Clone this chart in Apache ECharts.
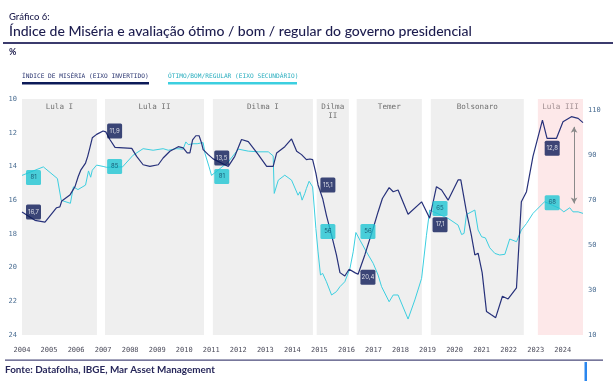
<!DOCTYPE html>
<html><head><meta charset="utf-8">
<script src="https://cdn.jsdelivr.net/npm/echarts@6/dist/echarts.min.js"></script>
<style>html,body{margin:0;padding:0;background:#fff}#c{width:613px;height:389px}</style>
</head><body><div id="c"></div>
<script>
// ---------------- DATA ----------------
const governments = ['Lula I', 'Lula II', 'Dilma I', 'Dilma\nII', 'Temer', 'Bolsonaro', 'Lula III'];
const govStart = [2004.0, 2007.07, 2011.06, 2014.9, 2016.38, 2019.12, 2023.08];
const govEnd   = [2006.77, 2010.73, 2014.76, 2016.09, 2018.79, 2022.56, 2024.75];

const miseryDates = [2004.00,2004.48,2004.85,2005.28,2005.40,2005.47,2005.77,2005.96,2006.08,2006.18,2006.35,2006.43,2006.51,2006.60,2006.76,2007.00,2007.10,2007.25,2007.44,2008.06,2008.24,2008.48,2008.73,2009.04,2009.22,2009.47,2009.78,2009.96,2010.11,2010.21,2010.31,2010.43,2010.55,2010.64,2010.70,2010.89,2011.07,2011.63,2011.87,2012.12,2012.37,2012.74,2013.05,2013.29,2013.42,2013.72,2013.97,2014.16,2014.34,2014.52,2014.65,2014.75,2014.87,2014.95,2015.12,2015.26,2015.45,2015.63,2015.76,2015.94,2016.10,2016.31,2016.43,2016.68,2016.99,2017.17,2017.33,2017.58,2017.73,2017.91,2018.28,2018.78,2019.08,2019.33,2019.52,2019.76,2020.13,2020.23,2020.44,2020.62,2020.75,2020.87,2021.02,2021.18,2021.36,2021.52,2021.77,2021.98,2022.29,2022.47,2022.66,2022.90,2023.25,2023.42,2023.77,2024.01,2024.32,2024.57,2024.75];
const miseryValues = [16.7,17.2,17.3,16.45,16.4,16.05,15.7,15.2,14.6,14.2,13.8,13.4,12.9,12.3,12.1,11.9,11.95,12.4,12.87,12.93,13.4,13.9,14.0,13.9,13.5,13.1,12.83,12.9,13.2,13.2,12.43,12.18,12.18,12.6,13.0,13.3,13.55,14.0,13.4,12.4,12.53,13.3,14.0,14.0,13.2,12.83,12.37,13.1,13.3,13.6,13.56,13.6,14.4,15.1,15.9,16.9,18.07,19.25,20.3,20.5,20.1,20.3,20.4,19.25,17.67,16.7,15.9,15.26,15.5,15.4,16.84,16.1,17.07,15.2,15.4,16.0,14.8,14.8,16.7,18.07,19.25,19.15,20.3,22.6,22.8,22.97,21.7,21.86,21.2,16.1,15.5,13.4,11.25,12.33,12.33,11.35,11.05,11.15,11.4];

const approvalDates = [2004.00,2004.79,2005.31,2005.45,2005.53,2005.79,2005.90,2006.07,2006.14,2006.35,2006.46,2006.54,2006.60,2006.76,2007.00,2007.13,2007.72,2008.11,2008.48,2008.85,2009.22,2009.41,2009.72,2009.96,2010.06,2010.15,2010.33,2010.48,2010.70,2010.77,2010.92,2011.01,2011.63,2012.00,2012.37,2012.74,2013.11,2013.29,2013.33,2013.48,2013.72,2013.97,2014.21,2014.28,2014.36,2014.46,2014.52,2014.62,2014.75,2014.87,2014.95,2015.04,2015.12,2015.26,2015.45,2015.63,2015.76,2015.94,2016.13,2016.25,2016.35,2016.50,2016.74,2016.99,2017.17,2017.30,2017.58,2017.73,2017.91,2018.28,2018.53,2018.78,2018.96,2019.08,2019.76,2020.13,2020.26,2020.35,2020.44,2020.75,2020.87,2021.00,2021.14,2021.30,2021.49,2021.67,2021.86,2022.04,2022.29,2022.47,2022.66,2022.90,2023.33,2023.89,2024.04,2024.26,2024.38,2024.57,2024.75];
const approvalValues = [81,84.8,79.6,70,69.6,68.6,75.9,74.7,74.4,76.7,83.0,80.2,83.3,85.6,85,84.6,84.8,90,92.9,92.2,92.9,92.2,92.9,92.7,95.9,94.7,95.1,95.1,95.6,90.7,84.8,81,87,92.7,91.8,91.5,91.5,89.7,73,78.9,81.1,78.9,72.2,73.7,70,73,75.2,78.4,75.9,57.4,47,36.7,37.4,33.7,27.8,29.3,31.5,33.7,39.6,47,55.6,52.2,47,41.9,36.7,31.5,24.8,27.8,27.8,17.1,25.6,35.2,54.4,65.6,61.9,58.9,54.7,55.2,63.6,65.6,56.7,53.7,53.2,48.8,46.3,45.6,45.9,52.7,51.5,56.7,59.6,64.1,69.3,66.3,64.8,66.6,64.8,64.8,64.1];

const labelDates     = [2004.0, 2007.0, 2011.0, 2015.0, 2016.37, 2019.0, 2023.0];
const miseryLabels   = [16.7, 11.9, 13.5, 15.1, 20.4, 17.1, 12.8];
const approvalLabels = [81, 85, 81, 56, 56, 65, 68];

const arrowDate = 2024.42;
const arrowRange = [68.5, 102.6];

const leftTicks = {min: 10, max: 24, interval: 2};
const rightTicks = {min: 10, max: 115, interval: 20};
const xRange = {min: 2004, max: 2024.75, interval: 1};

// ---------------- STYLE ----------------
const NAVY = '#27317a', NAVY_BOX = '#0c1a58', CYAN = '#3ccfe0', CYAN_BOX = '#1fc5d3';
const MONO = '"DejaVu Sans Mono", "Liberation Mono", monospace';
const SANS = 'Lato, "Noto Sans", sans-serif';
const labelGap = [4, 4, 3, 1, 4, 5, 9];
const miseryDy = [0, 0, 0, 0, 3, 6, 2];
const approvalDy = [2, 0, 1, 0, 0, -3, -2];

function fit(text, family, target, weight) {
  const c = document.createElement('canvas').getContext('2d');
  c.font = (weight ? weight + ' ' : '') + '100px ' + family;
  return 100 * target / c.measureText(text).width;
}
const fmt = v => String(v).replace('.', ',');

const titleTxt = 'Índice de Miséria e avaliação ótimo / bom / regular do governo presidencial';
const leg1 = 'ÍNDICE DE MISÉRIA (EIXO INVERTIDO)';
const leg2 = 'ÓTIMO/BOM/REGULAR (EIXO SECUNDÁRIO)';
const srcTxt = 'Fonte: Datafolha, IBGE, Mar Asset Management';
const titleSize = fit(titleTxt, SANS, 463, '500');
const legSize = fit(leg1, MONO, 127);
const srcSize = fit(srcTxt, SANS, 210, 'bold');

const chart = echarts.init(document.getElementById('c'), null, {renderer: 'canvas'});

const bands = governments.map((g, i) => [
  {xAxis: govStart[i], name: g,
   itemStyle: {color: g === 'Lula III' ? '#fde8e9' : '#efefef'},
   label: {color: g === 'Lula III' ? '#9e8c8f' : '#6e6e6e'}},
  {xAxis: govEnd[i]}
]);

function labelSeries(values, yIdx, bg, fg, dy) {
  return {
    type: 'scatter', yAxisIndex: yIdx, symbolSize: 0, silent: true, z: 10,
    data: labelDates.map((d, i) => ({
      value: [d, values[i]],
      label: {distance: labelGap[i], offset: [0, dy[i]]}
    })),
    label: {
      show: true, position: 'right', backgroundColor: bg, borderRadius: 1.5,
      padding: [4, 2.5],
      formatter: p => '{t|' + fmt(p.value[1]) + '}',
      rich: {t: {width: 10, align: 'center', fontSize: 6, lineHeight: 7, color: fg, fontFamily: 'Inter, sans-serif'}}
    }
  };
}

chart.setOption({
  animation: false,
  grid: {left: 22, right: 30, top: 99, bottom: 54},
  xAxis: {
    type: 'value', min: xRange.min, max: xRange.max, interval: xRange.interval,
    axisLine: {show: false}, axisTick: {show: false}, splitLine: {show: false},
    axisLabel: {showMaxLabel: false, fontFamily: MONO, fontSize: 7, color: '#4d4d5c', margin: 12,
      formatter: v => String(Math.round(v))}
  },
  yAxis: [
    {type: 'value', inverse: true, min: leftTicks.min, max: leftTicks.max, interval: leftTicks.interval,
     axisLine: {show: false}, axisTick: {show: false}, splitLine: {show: false},
     axisLabel: {fontFamily: MONO, fontSize: 7, color: '#4a6d92', margin: 5}},
    {type: 'value', position: 'right', min: rightTicks.min, max: rightTicks.max, interval: rightTicks.interval,
     axisLine: {show: false}, axisTick: {show: false}, splitLine: {show: false},
     axisLabel: {showMaxLabel: false, fontFamily: MONO, fontSize: 7, color: '#4a6d92', margin: 5}}
  ],
  series: [
    {
      type: 'line', yAxisIndex: 1, showSymbol: false, symbol: 'none', silent: true, z: 3,
      lineStyle: {color: CYAN, width: 1},
      data: approvalDates.map((d, i) => [d, approvalValues[i]]),
      markArea: {
        silent: true, z: 1,
        label: {show: true, position: 'insideTop', distance: 4, fontFamily: MONO, fontSize: 7.6, lineHeight: 9},
        data: bands
      },
      markLine: {
        silent: true, symbol: ['arrow', 'arrow'], symbolSize: [5, 6],
        lineStyle: {color: '#8a8a8a', width: 1, type: 'solid'},
        label: {show: false},
        data: [[{coord: [arrowDate, arrowRange[0]]}, {coord: [arrowDate, arrowRange[1]]}]]
      }
    },
    {
      type: 'line', yAxisIndex: 0, showSymbol: false, symbol: 'none', silent: true, z: 4,
      lineStyle: {color: NAVY, width: 1.2},
      data: miseryDates.map((d, i) => [d, miseryValues[i]])
    },
    labelSeries(approvalLabels, 1, CYAN_BOX, '#0c3f5c', approvalDy),
    labelSeries(miseryLabels, 0, NAVY_BOX, '#ffffff', miseryDy)
  ],
  graphic: [
    {type: 'text', left: 9, top: 12, style: {text: 'Gráfico 6:', font: '500 9.5px ' + SANS, fill: '#1d1d4d'}},
    {type: 'text', left: 9, top: 24, style: {text: titleTxt, font: '500 ' + titleSize.toFixed(2) + 'px ' + SANS, fill: '#1c1c4e'}},
    {type: 'rect', left: 3, top: 42, shape: {width: 610, height: 2}, style: {fill: '#3b3b6d'}},
    {type: 'text', left: 9, top: 48, style: {text: '%', font: 'bold 9px ' + SANS, fill: '#1d1d4d'}},
    {type: 'text', left: 22, top: 73, style: {text: leg1, font: legSize.toFixed(2) + 'px ' + MONO, fill: '#2a3570'}},
    {type: 'rect', left: 22, top: 82, shape: {width: 127, height: 2.5}, style: {fill: NAVY_BOX}},
    {type: 'text', left: 168, top: 73, style: {text: leg2, font: legSize.toFixed(2) + 'px ' + MONO, fill: '#2aaebf'}},
    {type: 'rect', left: 168, top: 82, shape: {width: 129, height: 2.5}, style: {fill: CYAN}},
    {type: 'rect', left: 5, top: 359.5, shape: {width: 598, height: 1.2}, style: {fill: '#4a4a7a'}},
    {type: 'text', left: 5, top: 365, style: {text: srcTxt, font: 'bold ' + srcSize.toFixed(2) + 'px ' + SANS, fill: '#27275a'}},
    {type: 'rect', left: 584.5, top: 362, shape: {width: 2.5, height: 19}, style: {fill: '#2a86ee'}}
  ]
});
</script></body></html>
